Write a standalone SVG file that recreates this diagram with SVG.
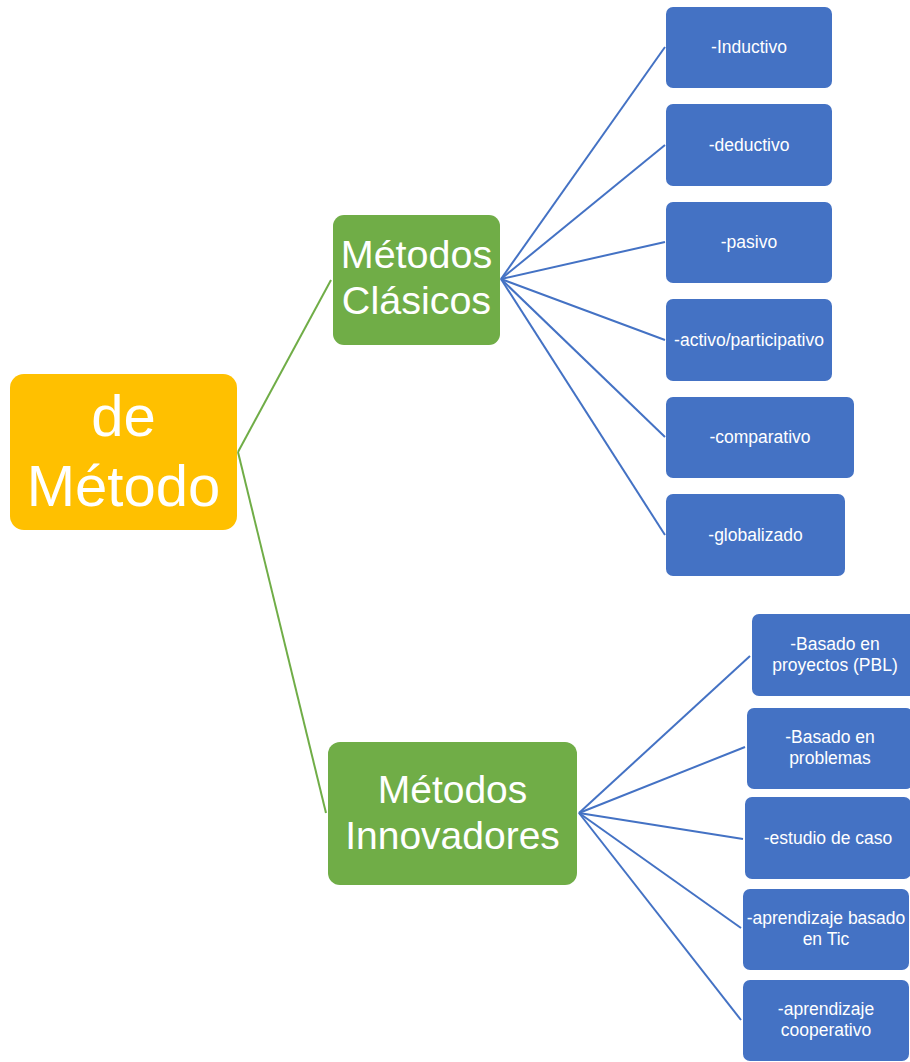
<svg xmlns="http://www.w3.org/2000/svg" width="910" height="1062" viewBox="0 0 910 1062">
<style>
.root{fill:#FFC000}
.mid{fill:#70AD47}
.leaf{fill:#4472C4}
text{font-family:"Liberation Sans",Arial,sans-serif;fill:#FFFFFF;text-anchor:middle}
.t1{font-size:58px}
.t2{font-size:39.5px}
.t2b{font-size:39px}
.t3{font-size:17.5px}
.cg{stroke:#70AD47;stroke-width:2;fill:none}
.cb{stroke:#4472C4;stroke-width:2;fill:none}
</style>
<rect width="910" height="1062" fill="#FFFFFF"/>
<g id="connectors">
<line class="cg" x1="238" y1="452" x2="331" y2="280"/>
<line class="cg" x1="238" y1="452" x2="326" y2="813"/>
<line class="cb" x1="501" y1="279" x2="665" y2="47"/>
<line class="cb" x1="501" y1="279" x2="665" y2="145"/>
<line class="cb" x1="501" y1="279" x2="665" y2="242"/>
<line class="cb" x1="501" y1="279" x2="665" y2="340"/>
<line class="cb" x1="501" y1="279" x2="665" y2="437"/>
<line class="cb" x1="501" y1="279" x2="665" y2="535"/>
<line class="cb" x1="579" y1="813" x2="750" y2="656"/>
<line class="cb" x1="579" y1="813" x2="745" y2="747"/>
<line class="cb" x1="579" y1="813" x2="743" y2="839"/>
<line class="cb" x1="579" y1="813" x2="741" y2="928"/>
<line class="cb" x1="579" y1="813" x2="741" y2="1020"/>
</g>
<g id="root">
<rect class="root" x="10" y="374" width="227" height="156" rx="14"/>
<text class="t1" x="123.5" y="436">de</text>
<text class="t1" x="123.5" y="506">Método</text>
</g>
<g id="clasicos">
<rect class="mid" x="333" y="215" width="167" height="130" rx="11"/>
<text class="t2" x="416.5" y="268">Métodos</text>
<text class="t2" x="416.5" y="314">Clásicos</text>
</g>
<g id="innovadores">
<rect class="mid" x="328" y="742" width="249" height="143" rx="12"/>
<text class="t2b" x="452.5" y="803">Métodos</text>
<text class="t2b" x="452.5" y="849">Innovadores</text>
</g>
<g id="inductivo">
<rect class="leaf" x="666" y="7" width="166" height="81" rx="7"/>
<text class="t3" x="749" y="53">-Inductivo</text>
</g>
<g id="deductivo">
<rect class="leaf" x="666" y="104" width="166" height="82" rx="7"/>
<text class="t3" x="749" y="151">-deductivo</text>
</g>
<g id="pasivo">
<rect class="leaf" x="666" y="202" width="166" height="81" rx="7"/>
<text class="t3" x="749" y="248">-pasivo</text>
</g>
<g id="activo">
<rect class="leaf" x="666" y="299" width="166" height="82" rx="7"/>
<text class="t3" x="749" y="346">-activo/participativo</text>
</g>
<g id="comparativo">
<rect class="leaf" x="666" y="397" width="188" height="81" rx="7"/>
<text class="t3" x="760" y="443">-comparativo</text>
</g>
<g id="globalizado">
<rect class="leaf" x="666" y="494" width="179" height="82" rx="7"/>
<text class="t3" x="755.5" y="541">-globalizado</text>
</g>
<g id="pbl">
<rect class="leaf" x="752" y="614" width="166" height="82" rx="7"/>
<text class="t3" x="835" y="650">-Basado en</text>
<text class="t3" x="835" y="671">proyectos (PBL)</text>
</g>
<g id="problemas">
<rect class="leaf" x="747" y="708" width="166" height="81" rx="7"/>
<text class="t3" x="830" y="743">-Basado en</text>
<text class="t3" x="830" y="764">problemas</text>
</g>
<g id="estudio">
<rect class="leaf" x="745" y="797" width="166" height="82" rx="7"/>
<text class="t3" x="828" y="844">-estudio de caso</text>
</g>
<g id="tic">
<rect class="leaf" x="743" y="889" width="166" height="81" rx="7"/>
<text class="t3" x="826" y="924">-aprendizaje basado</text>
<text class="t3" x="826" y="945">en Tic</text>
</g>
<g id="cooperativo">
<rect class="leaf" x="743" y="980" width="166" height="81" rx="7"/>
<text class="t3" x="826" y="1015">-aprendizaje</text>
<text class="t3" x="826" y="1036">cooperativo</text>
</g>
</svg>
